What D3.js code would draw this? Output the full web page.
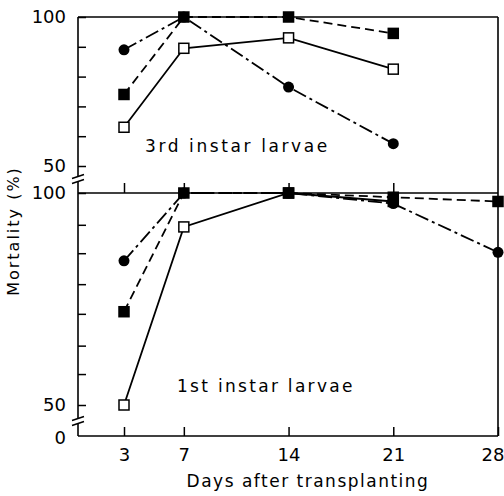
<!DOCTYPE html>
<html>
<head>
<meta charset="utf-8">
<script src="https://cdn.jsdelivr.net/npm/d3@7"></script>
<style>
body { margin: 0; background: #fff; }
text { font-family: "DejaVu Sans", sans-serif; fill: #000; }
</style>
</head>
<body>
<svg width="504" height="496"></svg>
<script>
// days on the x axis
const days = [3, 7, 14, 21, 28];
const dayLabels = ["3", "7", "14", "21", "28"];

// upper panel: 3rd instar larvae
const upperDays = [3, 7, 14, 21];
const upperCircle = [89, 100, 76.5, 57.5];
const upperFilled = [74, 100, 100, 94.5];
const upperOpen = [63, 89.5, 93, 82.5];

// lower panel: 1st instar larvae
const lowerCircle = [84, 100, 100, 97.5, 86];
const lowerFilled = [72, 100, 100, 99, 98];
const lowerOpenDays = [3, 7, 14, 21];
const lowerOpen = [50, 92, 100, 98];

// y ticks
const topTicks = [50, 60, 70, 80, 90, 100];
const bottomTicks = [50, 57.3, 64, 71.5, 78.5, 85.8, 92.5, 100];
const yLabels = {50: "50", 100: "100"};

let svg = d3.select("svg");
const L = 78, R = 498, T = 17, M = 193, B = 436;

let x = d3.scaleLinear().domain([3, 28]).range([124, 498]);
let yTop = d3.scaleLinear().domain([50, 100]).range([166, 17]);
let yBot = d3.scaleLinear().domain([50, 100]).range([405, 193]);

function fixFont(g, size) {
    g.attr("font-family", "DejaVu Sans, sans-serif").attr("font-size", size);
    g.select(".domain").remove();
    g.selectAll("line").attr("stroke", "#000").attr("stroke-width", 1.5);
}

// left axes
svg.append("g")
    .attr("transform", `translate(${L},0)`)
    .call(d3.axisLeft(yTop).tickValues(topTicks).tickSize(-8).tickSizeOuter(0)
        .tickPadding(12).tickFormat(d => yLabels[d] || ""))
    .call(g => fixFont(g, 18));

svg.append("g")
    .attr("transform", `translate(${L},0)`)
    .call(d3.axisLeft(yBot).tickValues(bottomTicks).tickSize(-8).tickSizeOuter(0)
        .tickPadding(12).tickFormat(d => yLabels[d] || ""))
    .call(g => fixFont(g, 18));

// ticks on top of lower panel
svg.append("g")
    .attr("transform", `translate(0,${M})`)
    .call(d3.axisBottom(x).tickValues(days.slice(0, 4)).tickSize(-10).tickSizeOuter(0).tickFormat(""))
    .call(g => fixFont(g, 18));

// bottom axis
let xAxis = svg.append("g")
    .attr("transform", `translate(0,${B})`)
    .call(d3.axisBottom(x).tickValues(days).tickSize(-9).tickSizeOuter(0)
        .tickPadding(12).tickFormat((d, i) => dayLabels[i]))
    .call(g => fixFont(g, 18));
// last label sits against the right edge
xAxis.selectAll(".tick text").filter(d => d === 28).attr("text-anchor", "end").attr("x", 6);

// zero label
svg.append("text").attr("x", 66).attr("y", B + 2).attr("dy", "0.35em")
    .attr("text-anchor", "end").attr("font-size", 18).text("0");

// frame lines
let frame = svg.append("g").attr("stroke", "#000").attr("stroke-width", 1.6).attr("fill", "none");
frame.append("line").attr("x1", L).attr("x2", R).attr("y1", T).attr("y2", T);
frame.append("line").attr("x1", L).attr("x2", R).attr("y1", M).attr("y2", M);
frame.append("line").attr("x1", L).attr("x2", R).attr("y1", B).attr("y2", B);
frame.append("line").attr("x1", R).attr("x2", R).attr("y1", T).attr("y2", B);
frame.append("line").attr("x1", L).attr("x2", L).attr("y1", T).attr("y2", B);

// axis breaks
[179, 421].forEach(function(yb) {
    svg.append("rect").attr("x", L - 3).attr("y", yb - 2).attr("width", 6).attr("height", 4).attr("fill", "#fff");
    [-2.5, 2.5].forEach(function(o) {
        svg.append("line")
            .attr("x1", L - 6).attr("y1", yb + o + 2)
            .attr("x2", L + 6).attr("y2", yb + o - 2)
            .attr("stroke", "#000").attr("stroke-width", 1.4);
    });
});

// series
const dashFilled = "9,5";
const dashCircle = "14,4,3,4";

function drawLine(xs, vs, y, dash) {
    let line = d3.line().x(d => x(d[0])).y(d => y(d[1]));
    svg.append("path")
        .datum(xs.map((d, i) => [d, vs[i]]))
        .attr("d", line)
        .attr("fill", "none")
        .attr("stroke", "#000")
        .attr("stroke-width", 1.8)
        .attr("stroke-dasharray", dash);
}

function drawSquares(xs, vs, y, filled, size) {
    svg.append("g").selectAll("rect")
        .data(xs.map((d, i) => [d, vs[i]]))
        .enter().append("rect")
        .attr("x", d => x(d[0]) - size / 2)
        .attr("y", d => y(d[1]) - size / 2)
        .attr("width", size).attr("height", size)
        .attr("fill", filled ? "#000" : "#fff")
        .attr("stroke", "#000").attr("stroke-width", 1.5);
}

function drawCircles(xs, vs, y) {
    svg.append("g").selectAll("circle")
        .data(xs.map((d, i) => [d, vs[i]]))
        .enter().append("circle")
        .attr("cx", d => x(d[0])).attr("cy", d => y(d[1]))
        .attr("r", 5.5).attr("fill", "#000");
}

drawLine(upperDays, upperOpen, yTop, null);
drawLine(upperDays, upperFilled, yTop, dashFilled);
drawLine(upperDays, upperCircle, yTop, dashCircle);
drawSquares(upperDays, upperOpen, yTop, false, 10);
drawCircles(upperDays, upperCircle, yTop);
drawSquares(upperDays, upperFilled, yTop, true, 10);

drawLine(lowerOpenDays, lowerOpen, yBot, null);
drawLine(days, lowerFilled, yBot, dashFilled);
drawLine(days, lowerCircle, yBot, dashCircle);
drawSquares(lowerOpenDays, lowerOpen, yBot, false, 10);
drawCircles(days, lowerCircle, yBot);
drawSquares(days, lowerFilled, yBot, true, 10);

// panel labels
svg.append("text").attr("x", 145).attr("y", 152).attr("font-size", 17)
    .attr("letter-spacing", 2.6).text("3rd instar larvae");
svg.append("text").attr("x", 177).attr("y", 392).attr("font-size", 17)
    .attr("letter-spacing", 2.3).text("1st instar larvae");

// axis titles
svg.append("text").attr("x", 308).attr("y", 487).attr("font-size", 17)
    .attr("text-anchor", "middle").attr("letter-spacing", 1.5)
    .text("Days after transplanting");
svg.append("text")
    .attr("transform", "translate(19,231) rotate(-90)")
    .attr("font-size", 16).attr("text-anchor", "middle").attr("letter-spacing", 2)
    .text("Mortality (%)");
</script>
</body>
</html>
